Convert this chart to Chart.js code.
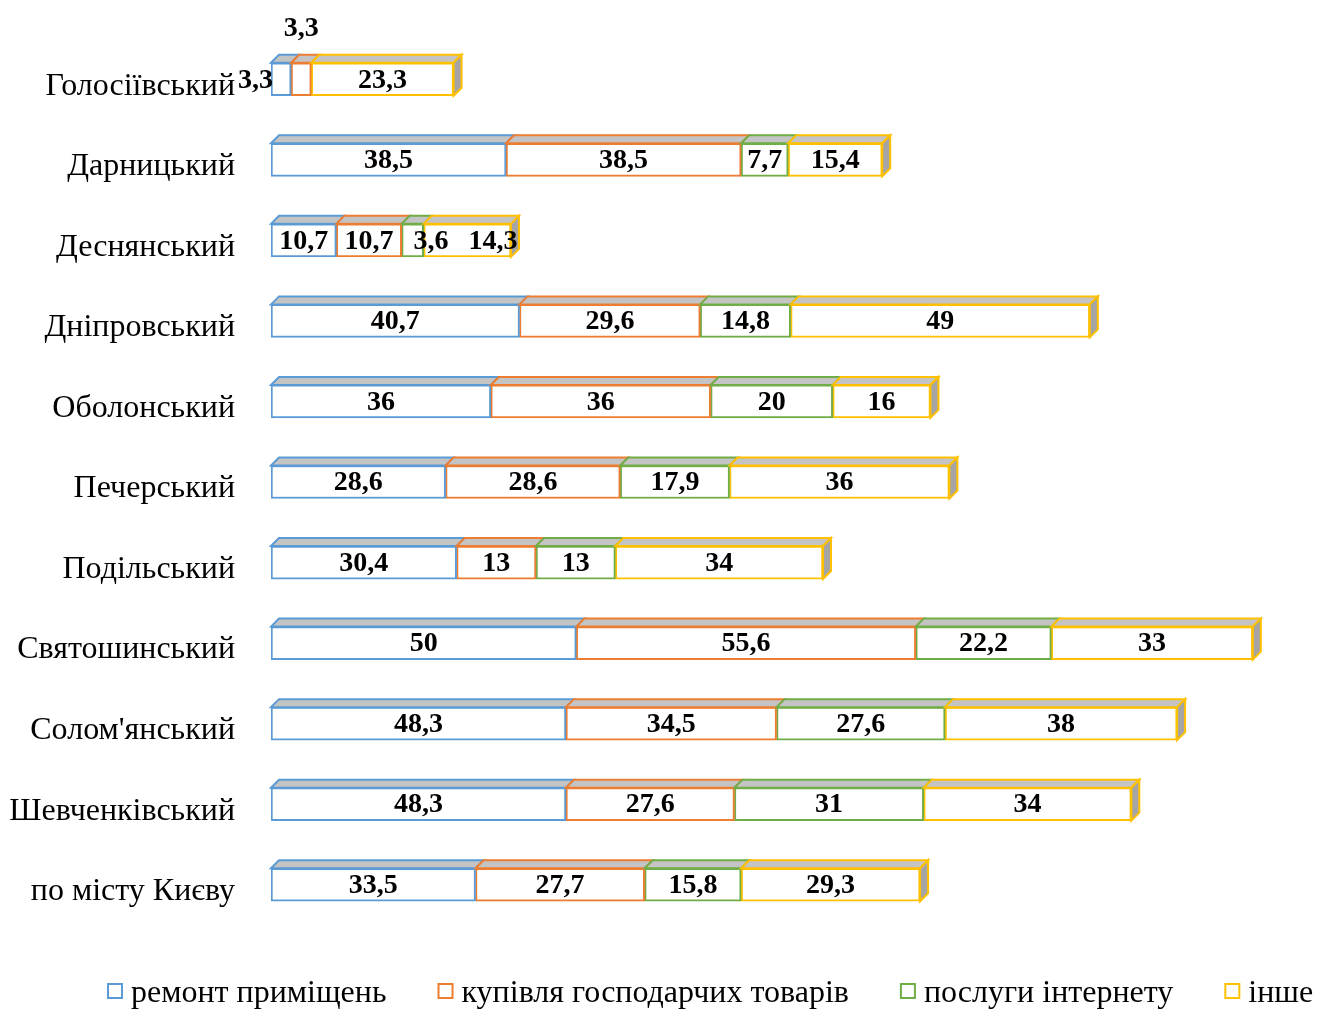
<!DOCTYPE html>
<html>
<head>
<meta charset="utf-8">
<script src="https://cdn.jsdelivr.net/npm/chart.js@4.4.1/dist/chart.umd.min.js"></script>
<style>
  html, body { margin: 0; padding: 0; background: #fff; }
  #wrap { width: 1317px; height: 1010px; position: relative; }
</style>
</head>
<body>
<div id="wrap"><canvas id="g_rayony"></canvas></div>
<script>
// Райони та частки (%)
const rayony = ['Голосіївський', 'Дарницький', 'Деснянський', 'Дніпровський', 'Оболонський',
  'Печерський', 'Подільський', 'Святошинський', "Солом'янський", 'Шевченківський', 'по місту Києву'];
const remont = [3.3, 38.5, 10.7, 40.7, 36, 28.6, 30.4, 50, 48.3, 48.3, 33.5];
const kupivlia = [3.3, 38.5, 10.7, 29.6, 36, 28.6, 13, 55.6, 34.5, 27.6, 27.7];
const internet = [null, 7.7, 3.6, 14.8, 20, 17.9, 13, 22.2, 27.6, 31, 15.8];
const inshe = [23.3, 15.4, 14.3, 49, 16, 36, 34, 33, 38, 34, 29.3];
const nazvy = ['ремонт приміщень', 'купівля господарчих товарів', 'послуги інтернету', 'інше'];
const kolory = ['#5B9BD5', '#ED7D31', '#70AD47', '#FFC000'];

const SERIF = '"Liberation Serif", "Times New Roman", serif';
const D = 8; // глибина 3D

// верх і бік "об'ємних" смуг
const obyem = {
  id: 'obyem',
  afterDatasetsDraw(chart) {
    const ctx = chart.ctx;
    const n = chart.data.labels.length;
    ctx.save();
    ctx.lineWidth = 2;
    for (let i = 0; i < n; i++) {
      let last = null;
      chart.data.datasets.forEach((ds, d) => {
        const v = ds.data[i];
        if (v == null || v === 0) return;
        const el = chart.getDatasetMeta(d).data[i];
        const x0 = el.base, x1 = el.x, yt = el.y - el.height / 2;
        ctx.beginPath();
        ctx.moveTo(x0, yt);
        ctx.lineTo(x0 + D, yt - D);
        ctx.lineTo(x1 + D, yt - D);
        ctx.lineTo(x1, yt);
        ctx.closePath();
        ctx.fillStyle = '#C4C4C4';
        ctx.fill();
        ctx.strokeStyle = ds.borderColor;
        ctx.stroke();
        last = { el, color: ds.borderColor };
      });
      if (last) {
        const el = last.el;
        const x1 = el.x, yt = el.y - el.height / 2, yb = el.y + el.height / 2;
        ctx.beginPath();
        ctx.moveTo(x1, yt);
        ctx.lineTo(x1 + D, yt - D);
        ctx.lineTo(x1 + D, yb - D);
        ctx.lineTo(x1, yb);
        ctx.closePath();
        ctx.fillStyle = '#A5A5A5';
        ctx.fill();
        ctx.strokeStyle = last.color;
        ctx.stroke();
      }
    }
    ctx.restore();
  }
};

// підписи значень
const pidpysy = {
  id: 'pidpysy',
  afterDraw(chart) {
    const ctx = chart.ctx;
    const n = chart.data.labels.length;
    ctx.save();
    ctx.font = 'bold 28px ' + SERIF;
    ctx.fillStyle = '#000';
    ctx.textBaseline = 'middle';
    ctx.textAlign = 'center';
    for (let i = 0; i < n; i++) {
      let prevRight = -Infinity;
      chart.data.datasets.forEach((ds, d) => {
        const v = ds.data[i];
        if (v == null || v === 0) return;
        const el = chart.getDatasetMeta(d).data[i];
        const txt = String(v).replace('.', ',');
        const w = ctx.measureText(txt).width;
        const seg = el.x - el.base;
        let cx = (el.x + el.base) / 2, cy = el.y + 1;
        let inRow = true;
        if (seg < w * 0.7 && d === 0) {
          cx = el.base - w / 2 + 2;
        } else if (seg < w * 0.7 && d === 1) {
          cy = el.y - 51;
          inRow = false;
        } else {
          const left = cx - w / 2;
          if (left < prevRight + 12) cx += prevRight + 20 - left;
        }
        ctx.fillText(txt, cx, cy);
        if (inRow) prevRight = cx + w / 2;
      });
    }
    ctx.restore();
  }
};

// легенда внизу
const lehenda = {
  id: 'lehenda',
  afterDraw(chart) {
    const ctx = chart.ctx;
    ctx.save();
    ctx.font = '32px ' + SERIF;
    ctx.textBaseline = 'middle';
    ctx.textAlign = 'left';
    const y = 994;
    let x = 108;
    chart.data.datasets.forEach((ds) => {
      ctx.fillStyle = '#fff';
      ctx.fillRect(x, y - 10, 14, 14);
      ctx.lineWidth = 2;
      ctx.strokeStyle = ds.borderColor;
      ctx.strokeRect(x, y - 10, 14, 14);
      ctx.fillStyle = '#000';
      ctx.fillText(ds.label, x + 23, y);
      x += 23 + ctx.measureText(ds.label).width + 52;
    });
    ctx.restore();
  }
};

const ctx = document.getElementById('g_rayony').getContext('2d');
const g_rayony = new Chart(ctx, {
  type: 'bar',
  data: {
    labels: rayony,
    datasets: [remont, kupivlia, internet, inshe].map((arr, k) => ({
      label: nazvy[k],
      data: arr,
      backgroundColor: '#FFFFFF',
      borderColor: kolory[k],
      borderWidth: 2,
      borderSkipped: false,
      barThickness: 33
    }))
  },
  options: {
    indexAxis: 'y',
    responsive: true,
    maintainAspectRatio: false,
    animation: false,
    layout: { padding: { top: 39, left: 10, right: 8, bottom: 85 } },
    scales: {
      x: { stacked: true, display: false, min: 0, max: 170 },
      y: {
        stacked: true,
        grid: { display: false },
        border: { display: false },
        ticks: { color: '#000', padding: 28, labelOffset: 7, font: { family: SERIF, size: 32 } },
        afterFit(scale) {
          scale.width = 261;
          scale.paddingTop = 0;
          scale.paddingBottom = 0;
        }
      }
    },
    plugins: {
      legend: { display: false },
      tooltip: { enabled: false }
    }
  },
  plugins: [obyem, pidpysy, lehenda]
});
</script>
</body>
</html>
